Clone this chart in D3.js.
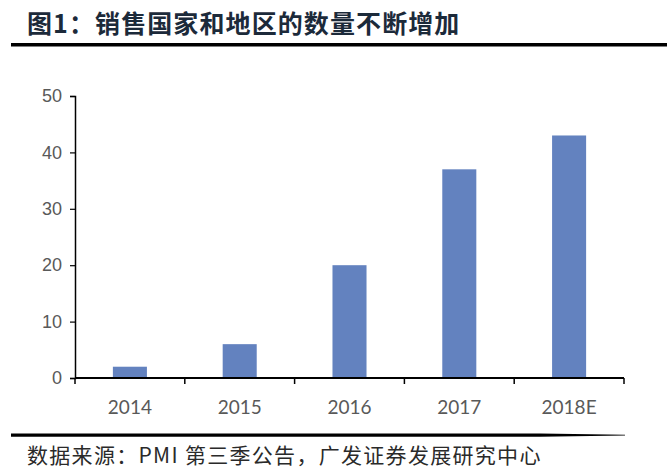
<!DOCTYPE html>
<html>
<head>
<meta charset="utf-8">
<script src="https://cdn.jsdelivr.net/npm/d3@7"></script>
<style>
  body { margin: 0; background: #fff; }
  svg { display: block; }
</style>
</head>
<body>
<svg id="chart" width="667" height="475"></svg>
<script>
// data
var years = ['2014', '2015', '2016', '2017', '2018E'];
var counts = [2, 6, 20, 37, 43];
var yTicks = [0, 10, 20, 30, 40, 50];

var titleText = '图1：销售国家和地区的数量不断增加';
var sourceText = '数据来源：PMI 第三季公告，广发证券发展研究中心';

var svg = d3.select('#chart');
var cjk = '"Noto Sans CJK SC", "Noto Sans", sans-serif';

// title + rule
svg.append('text')
  .attr('x', 27).attr('y', 33)
  .attr('font-family', cjk)
  .attr('font-weight', 'bold')
  .attr('font-size', 25)
  .attr('letter-spacing', 1.1)
  .attr('fill', '#1c2a3a')
  .text(titleText);
svg.append('rect')
  .attr('x', 11).attr('y', 43)
  .attr('width', 656).attr('height', 3.5)
  .attr('fill', '#000');

// chart
var x = d3.scaleBand().domain(years).range([75, 624]).padding(0);
var y = d3.scaleLinear().domain([0, 50]).range([378, 96]);
var barW = x.bandwidth() * 0.31;

svg.selectAll('.bar')
  .data(years)
  .enter()
  .append('rect')
  .attr('class', 'bar')
  .attr('x', function(d){ return x(d) + (x.bandwidth() - barW) / 2; })
  .attr('y', function(d, i){ return y(counts[i]); })
  .attr('width', barW)
  .attr('height', function(d, i){ return y(0) - y(counts[i]); })
  .attr('fill', '#6382bf');

// y axis
var yAxis = svg.append('g')
  .attr('transform', 'translate(75,0)')
  .call(d3.axisLeft(y).tickValues(yTicks).tickSize(5).tickPadding(8));
yAxis.select('.domain').attr('stroke', '#000').attr('stroke-width', 1.5);
yAxis.selectAll('.tick line').attr('stroke', '#000').attr('stroke-width', 1.2);
yAxis.selectAll('text')
  .attr('font-family', 'Liberation Sans, Arial, sans-serif')
  .attr('font-size', 18)
  .attr('fill', '#595959');

// x axis: ticks sit on category edges
var edges = years.map(function(d){ return x(d); }).concat([624]);
var xAxis = svg.append('g');
xAxis.append('line')
  .attr('x1', 75).attr('x2', 624)
  .attr('y1', y(0)).attr('y2', y(0))
  .attr('stroke', '#000').attr('stroke-width', 1.8);
xAxis.selectAll('.edge')
  .data(edges)
  .enter()
  .append('line')
  .attr('class', 'edge')
  .attr('x1', function(d){ return d; }).attr('x2', function(d){ return d; })
  .attr('y1', y(0)).attr('y2', y(0) + 6)
  .attr('stroke', '#000').attr('stroke-width', 1.5);
xAxis.selectAll('.lab')
  .data(years)
  .enter()
  .append('text')
  .attr('class', 'lab')
  .attr('x', function(d){ return x(d) + x.bandwidth() / 2; })
  .attr('y', 414)
  .attr('text-anchor', 'middle')
  .attr('font-family', 'Lato, "Open Sans", sans-serif')
  .attr('font-size', 19)
  .attr('fill', '#595959')
  .text(function(d){ return d; });

// bottom rule, tapering off at the right
svg.append('path')
  .attr('d', 'M11,433.5 L540,433.5 L625,434.8 L625,435.4 L540,436.8 L11,436.8 Z')
  .attr('fill', '#000');

svg.append('text')
  .attr('x', 27).attr('y', 463)
  .attr('font-family', cjk)
  .attr('font-size', 21)
  .attr('letter-spacing', 1.3)
  .attr('fill', '#2a2a2a')
  .text(sourceText);
</script>
</body>
</html>
